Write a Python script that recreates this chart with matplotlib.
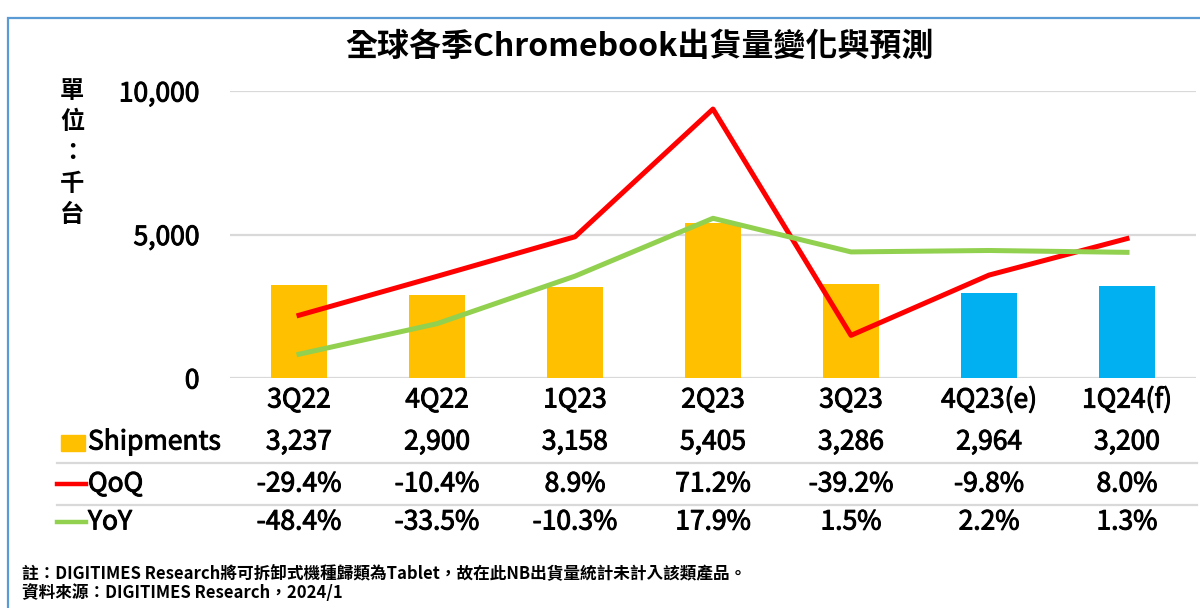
import matplotlib
matplotlib.use('Agg')
import matplotlib.pyplot as plt
import matplotlib.transforms as mtransforms
import matplotlib.patheffects as pe
from matplotlib.patches import Rectangle
from matplotlib.lines import Line2D

plt.rcParams['font.family'] = ['Noto Sans CJK TC', 'DejaVu Sans']

# Data
quarters = ['3Q22', '4Q22', '1Q23', '2Q23', '3Q23', '4Q23(e)', '1Q24(f)']
shipments = [3237, 2900, 3158, 5405, 3286, 2964, 3200]
qoq = [-29.4, -10.4, 8.9, 71.2, -39.2, -9.8, 8.0]
yoy = [-48.4, -33.5, -10.3, 17.9, 1.5, 2.2, 1.3]

title = '全球各季Chromebook出貨量變化與預測'
unit_label = '單位：千台'
note1 = '註：DIGITIMES Research將可拆卸式機種歸類為Tablet，故在此NB出貨量統計未計入該類產品。'
note2 = '資料來源：DIGITIMES Research，2024/1'

W, H = 1200, 608
fig = plt.figure(figsize=(12, 6.08), dpi=100)

def fy(py):
    # pixel row -> figure fraction
    return 1 - py / H

FS = 19      # table / tick font size
heavy = [pe.withStroke(linewidth=0.7, foreground='black')]   # slightly heavier text

ax = fig.add_axes([230 / W, fy(378), (1196 - 230) / W, (378 - 91) / H])
x = list(range(len(quarters)))

bar_colors = ['#00B0F0' if '(' in q else '#FFC000' for q in quarters]
ax.bar(x, shipments, width=0.4, color=bar_colors, zorder=3)
ax.set_xlim(-0.5, len(quarters) - 0.5)
ax.set_ylim(0, 10000)
ax.set_yticks([0, 5000, 10000])
ax.set_yticklabels(['{:,}'.format(v) for v in [0, 5000, 10000]], fontsize=FS)
for t in ax.get_yticklabels():
    t.set_path_effects(heavy)
ax.tick_params(axis='y', length=0, pad=22)
ax.set_xticks([])
ax.grid(axis='y', color='#D9D9D9', linewidth=1.6, zorder=0)
for s in ax.spines.values():
    s.set_visible(False)
ax.set_facecolor('none')

# secondary axis for percentages (hidden)
ax2 = ax.twinx()
ax2.set_ylim(-60, 80)
ax2.plot(x, qoq, color='#FF0000', linewidth=3.6, zorder=4)
ax2.plot(x, yoy, color='#92D050', linewidth=3.6, zorder=4)
ax2.axis('off')

# title and unit label
fig.text(640 / W, fy(47), title, ha='center', va='center', fontsize=23, fontweight='bold')
fig.text(72 / W, fy(153), '\n'.join(unit_label), ha='center', va='center',
         fontsize=17.5, fontweight='bold', linespacing=1.38)

# data table under the chart
trans = mtransforms.blended_transform_factory(ax.transData, fig.transFigure)
row_y = [400, 442, 484, 522]
for i, q in enumerate(quarters):
    cells = [q, '{:,}'.format(shipments[i]), '{:.1f}%'.format(qoq[i]), '{:.1f}%'.format(yoy[i])]
    for txt, py in zip(cells, row_y):
        fig.text(i, fy(py), txt, transform=trans, ha='center', va='center',
                 fontsize=FS, path_effects=heavy)

for py in [463, 505]:
    fig.add_artist(Line2D([57 / W, 1197 / W], [fy(py), fy(py)], color='#D9D9D9', linewidth=1.6))

# legend keys
fig.add_artist(Rectangle((61 / W, fy(451)), 24 / W, 16 / H, color='#FFC000'))
fig.add_artist(Line2D([57 / W, 86 / W], [fy(484), fy(484)], color='#FF0000', linewidth=3.2))
fig.add_artist(Line2D([57 / W, 86 / W], [fy(522), fy(522)], color='#92D050', linewidth=3.2))
for name, py in zip(['Shipments', 'QoQ', 'YoY'], row_y[1:]):
    fig.text(88 / W, fy(py), name, ha='left', va='center', fontsize=FS, path_effects=heavy)

# footnotes
fig.text(22 / W, fy(573), note1, ha='left', va='center', fontsize=12, fontweight='bold')
fig.text(22 / W, fy(593), note2, ha='left', va='center', fontsize=12, fontweight='bold')

# frame
fig.add_artist(Rectangle((7.5 / W, fy(620)), 1.05, (620 - 18) / H, fill=False,
                         edgecolor='#5B9BD5', linewidth=1.6))

fig.savefig('out.png', dpi=100)
